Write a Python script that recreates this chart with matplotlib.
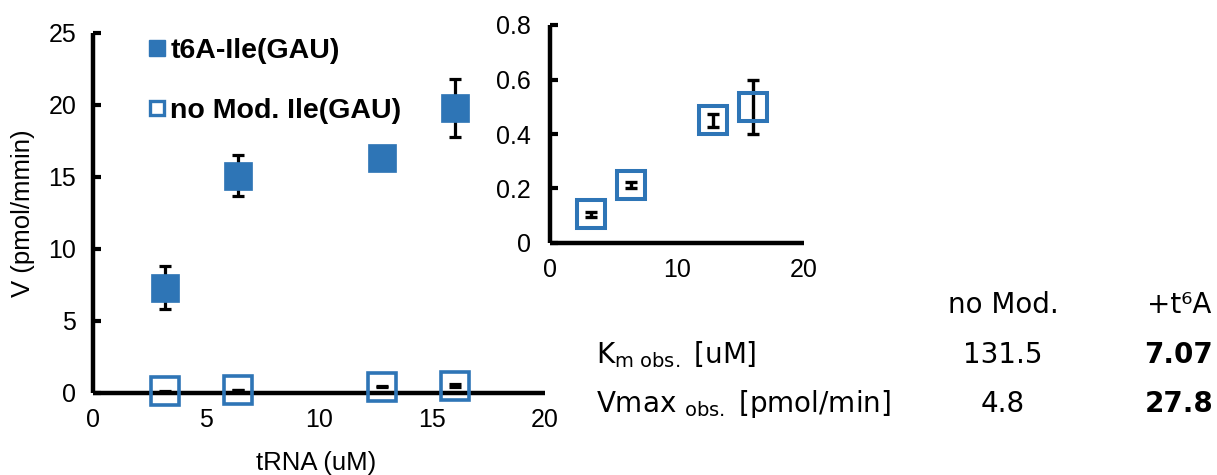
import matplotlib
matplotlib.use("Agg")
import matplotlib.pyplot as plt
from matplotlib.lines import Line2D

# ---------------- data ----------------
trna_uM = [3.2, 6.4, 12.8, 16.0]
v_t6a = [7.3, 15.1, 16.3, 19.8]
err_t6a = [1.5, 1.4, 0.5, 2.0]
v_nomod = [0.105, 0.213, 0.45, 0.50]
err_nomod = [0.008, 0.012, 0.025, 0.10]

legend_labels = ["t6A-Ile(GAU)", "no Mod. Ile(GAU)"]
main_xticks = [0, 5, 10, 15, 20]
main_yticks = [0, 5, 10, 15, 20, 25]
inset_xticks = [0, 10, 20]
inset_yticks = [0, 0.2, 0.4, 0.6, 0.8]
inset_yticklabels = ["0", "0.2", "0.4", "0.6", "0.8"]

table_cols = ["no Mod.", "+t\u2076A"]
table_rows = [r"K$_{\mathregular{m\ obs.}}$ [uM]", r"Vmax $_{\mathregular{obs.}}$ [pmol/min]"]
km_obs = ["131.5", "7.07"]
vmax_obs = ["4.8", "27.8"]

BLUE = "#2E75B6"
AX_FONT = "Liberation Sans"
TAB_FONT = "DejaVu Sans"

plt.rcParams["font.family"] = [AX_FONT, "DejaVu Sans"]
plt.rcParams["xtick.labelsize"] = 18
plt.rcParams["ytick.labelsize"] = 18

W, H = 1217, 475
fig = plt.figure(figsize=(W / 100, H / 100), dpi=100)

def frac_axes(l, t, r, b):
    return fig.add_axes([l / W, 1 - b / H, (r - l) / W, (b - t) / H])

# ---------------- main axes ----------------
ax = frac_axes(93, 33, 545, 393)
ax.set_xlim(0, 20)
ax.set_ylim(0, 25)
for s in ["top", "right"]:
    ax.spines[s].set_visible(False)
for s in ["left", "bottom"]:
    ax.spines[s].set_linewidth(3.2)
    ax.spines[s].set_capstyle("butt")

ax.errorbar(trna_uM, v_t6a, yerr=err_t6a, fmt="none", ecolor="black",
            elinewidth=2.3, capsize=4, capthick=2.3, zorder=3)
ax.plot(trna_uM, v_t6a, linestyle="none", marker="s", markersize=19.5,
        markerfacecolor=BLUE, markeredgecolor=BLUE, markeredgewidth=0.5, zorder=4)

ax.errorbar(trna_uM, v_nomod, yerr=err_nomod, fmt="none", ecolor="black",
            elinewidth=2.3, capsize=4, capthick=2.3, zorder=3, clip_on=False)
ax.plot(trna_uM, v_nomod, linestyle="none", marker="s", markersize=20,
        markerfacecolor="none", markeredgecolor=BLUE, markeredgewidth=2.6,
        zorder=4, clip_on=False)

ax.set_xticks(main_xticks)
ax.set_yticks(main_yticks)
ax.tick_params(axis="x", length=0, pad=11)
ax.tick_params(axis="y", direction="in", length=6, width=3, pad=12)

ax.set_xlabel("tRNA (uM)", fontsize=18.5)
ax.set_ylabel("V (pmol/mmin)", fontsize=18.5)
ax.xaxis.set_label_coords(0.493, -0.16)
ax.yaxis.set_label_coords(-0.128, 0.5)

handles = [
    Line2D([], [], linestyle="none", marker="s", markersize=12,
           markerfacecolor=BLUE, markeredgecolor=BLUE),
    Line2D([], [], linestyle="none", marker="s", markersize=10.5,
           markerfacecolor="none", markeredgecolor=BLUE, markeredgewidth=2.4),
]
leg = ax.legend(handles, legend_labels, loc="upper left",
                bbox_to_anchor=((148 - 93) / 452, (393 - 38) / 360),
                frameon=False, borderpad=0, borderaxespad=0,
                handlelength=0.6, handletextpad=0.18, labelspacing=1.2,
                prop={"family": AX_FONT, "weight": "bold", "size": 20.5})

# ---------------- inset axes ----------------
ax2 = frac_axes(550, 25, 804, 243)
ax2.set_xlim(0, 20)
ax2.set_ylim(0, 0.8)
for s in ["top", "right"]:
    ax2.spines[s].set_visible(False)
for s in ["left", "bottom"]:
    ax2.spines[s].set_linewidth(3.2)
    ax2.spines[s].set_capstyle("butt")

ax2.errorbar(trna_uM, v_nomod, yerr=err_nomod, fmt="none", ecolor="black",
             elinewidth=2.4, capsize=4.3, capthick=2.4, zorder=3)
ax2.plot(trna_uM, v_nomod, linestyle="none", marker="s", markersize=19.5,
         markerfacecolor="none", markeredgecolor=BLUE, markeredgewidth=2.9, zorder=4)

ax2.set_xticks(inset_xticks)
ax2.set_yticks(inset_yticks)
ax2.set_yticklabels(inset_yticklabels)
ax2.tick_params(axis="x", length=0, pad=11)
ax2.tick_params(axis="y", direction="in", length=6, width=3, pad=14)

# ---------------- parameter table ----------------
col_x = [1003, 1179]
row_y = [305, 355, 404]
tkw = dict(fontsize=20, fontfamily=TAB_FONT, va="center")
for cx, name in zip(col_x, table_cols):
    fig.text(cx / W, 1 - row_y[0] / H, name, ha="center", **tkw)
for ry, name in zip(row_y[1:], table_rows):
    fig.text(596 / W, 1 - ry / H, name, ha="left", **tkw)
for ry, vals in zip(row_y[1:], [km_obs, vmax_obs]):
    fig.text(col_x[0] / W, 1 - ry / H, vals[0], ha="center", **tkw)
    fig.text(col_x[1] / W, 1 - ry / H, vals[1], ha="center",
             fontweight="bold", **tkw)

fig.savefig("out.png", dpi=100)
